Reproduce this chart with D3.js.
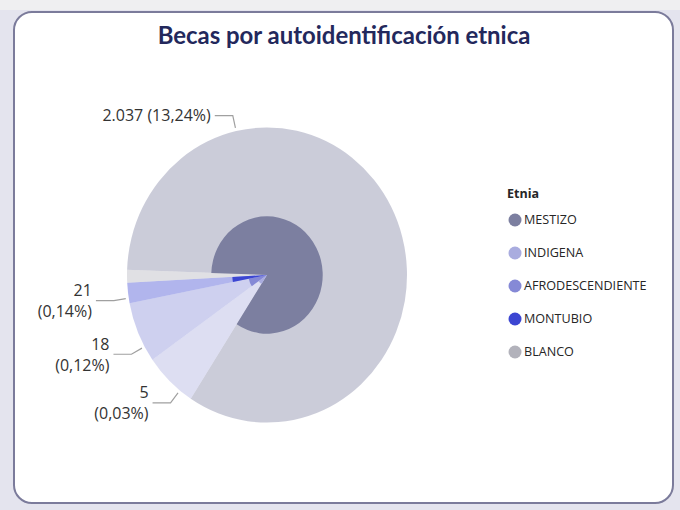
<!DOCTYPE html>
<html>
<head>
<meta charset="utf-8">
<script src="https://cdn.jsdelivr.net/npm/d3@7"></script>
<style>
	html, body { margin: 0; padding: 0; background: #e4e4ee; }
	#area { width: 680px; height: 510px; }
</style>
</head>
<body>
<div id="area"></div>
<script>

/**
* DATA
* ====
*/
var categories = ['MESTIZO', 'INDIGENA', 'AFRODESCENDIENTE', 'MONTUBIO', 'BLANCO'];
var totals = [12863, 940, 1026, 342, 214];       // whole slice (faded part)
var highlighted = [2037, 5, 18, 21, 0];           // highlighted part (labels)
var colors = ['#7c7fa0', '#a9acdf', '#8589d6', '#3c46d2', '#b2b2bb'];
var title = 'Becas por autoidentificación etnica';
var legendTitle = 'Etnia';


/**
* CHART
* =====
*/
var width = 680;
var height = 510;
var cx = 267, cy = 275;
var radius = 140;
var stretch = 1.054;   // reference pie is slightly taller than wide
var startAngle = -88 * Math.PI / 180;

var locale = d3.formatLocale({ decimal: ',', thousands: '.', grouping: [3], currency: ['', ''] });
var fmtValue = locale.format(',d');
var fmtPct = locale.format('.2%');

var svg = d3.select('#area').append('svg')
	.attr('width', width)
	.attr('height', height);

//Background strip and card
svg.append('rect').attr('x', 0).attr('y', 0).attr('width', width).attr('height', 10).attr('fill', '#efeff1');
svg.append('rect')
	.attr('x', 14).attr('y', 12)
	.attr('width', 659).attr('height', 491)
	.attr('rx', 18)
	.attr('fill', '#ffffff')
	.attr('stroke', '#7b7b9b')
	.attr('stroke-width', 2);

//Title, fitted to the reference width
var titleText = svg.append('text')
	.attr('x', 344)
	.attr('y', 44)
	.attr('text-anchor', 'middle')
	.attr('font-family', 'Lato, "Open Sans", sans-serif')
	.attr('font-weight', 700)
	.attr('font-size', 24)
	.attr('fill', '#23285c')
	.text(title);
var tlen = titleText.node().getComputedTextLength();
titleText.attr('font-size', 24 * 373 / tlen);

//Pie layout
var rows = categories.map(function(c, i){
	return { name: c, total: totals[i], hl: highlighted[i], color: colors[i] };
});
var grandTotal = d3.sum(totals);

var pie = d3.pie()
	.sort(null)
	.value(function(d){ return d.total; })
	.startAngle(startAngle)
	.endAngle(startAngle + 2 * Math.PI);
var arcs = pie(rows);

var arcFull = d3.arc().innerRadius(0).outerRadius(radius);
var arcHl = d3.arc().innerRadius(0).outerRadius(function(d){
	return radius * Math.sqrt(d.data.hl / d.data.total);
});

var pieGroup = svg.append('g')
	.attr('transform', 'translate(' + cx + ',' + cy + ') scale(1,' + stretch + ')');

pieGroup.selectAll('path.full')
	.data(arcs)
	.enter().append('path')
	.attr('class', 'full')
	.attr('d', arcFull)
	.attr('fill', function(d){ return d.data.color; })
	.attr('fill-opacity', 0.4);

pieGroup.selectAll('path.hl')
	.data(arcs.filter(function(d){ return d.data.hl > 0; }))
	.enter().append('path')
	.attr('class', 'hl')
	.attr('d', arcHl)
	.attr('fill', function(d){ return d.data.color; });

//Labels with leader lines
var pointAt = function(a, r){
	return [cx + r * Math.sin(a), cy - r * Math.cos(a) * stretch];
};

var labelGroup = svg.append('g')
	.attr('font-family', '"Open Sans", sans-serif')
	.attr('font-size', 16)
	.attr('fill', '#333333');

arcs.filter(function(d){ return d.data.hl > 0; }).forEach(function(d){

	var span = d.endAngle - d.startAngle;
	var a = d.startAngle + span / 4;
	var p0 = pointAt(a, radius + 3);
	var p1 = pointAt(a, radius + 15);
	var dir = Math.sin(a) < 0 ? -1 : 1;
	var p2 = [p1[0] + dir * 18, p1[1]];

	labelGroup.append('polyline')
		.attr('points', [p0, p1, p2].map(function(p){ return p.join(','); }).join(' '))
		.attr('fill', 'none')
		.attr('stroke', '#a0a0a0')
		.attr('stroke-width', 1.2);

	var tx = p2[0] + dir * 4;
	var valueStr = fmtValue(d.data.hl);
	var pctStr = '(' + fmtPct(d.data.hl / grandTotal) + ')';

	var t = labelGroup.append('text')
		.attr('x', tx)
		.attr('text-anchor', dir < 0 ? 'end' : 'start');

	//Narrow slices get a two line label
	if(span < 0.1 * 2 * Math.PI){
		t.append('tspan').attr('x', tx).attr('y', p1[1] - 10).attr('dy', '0.35em').text(valueStr);
		t.append('tspan').attr('x', tx).attr('y', p1[1] + 11).attr('dy', '0.35em').text(pctStr);
	} else {
		t.attr('y', p1[1]).attr('dy', '0.35em').text(valueStr + ' ' + pctStr);
	}
});

//Legend
var legend = svg.append('g')
	.attr('font-family', '"Open Sans", sans-serif')
	.attr('fill', '#262626');

legend.append('text')
	.attr('x', 507)
	.attr('y', 194)
	.attr('dy', '0.35em')
	.attr('font-size', 12.5)
	.attr('font-weight', 700)
	.text(legendTitle);

var items = legend.selectAll('g.item')
	.data(rows)
	.enter().append('g')
	.attr('class', 'item')
	.attr('transform', function(d, i){ return 'translate(515,' + (220 + i * 33) + ')'; });

items.append('circle')
	.attr('r', 6.5)
	.attr('fill', function(d){ return d.color; });

items.append('text')
	.attr('x', 9)
	.attr('dy', '0.35em')
	.attr('font-size', 12.6)
	.text(function(d){ return d.name; });

</script>
</body>
</html>
